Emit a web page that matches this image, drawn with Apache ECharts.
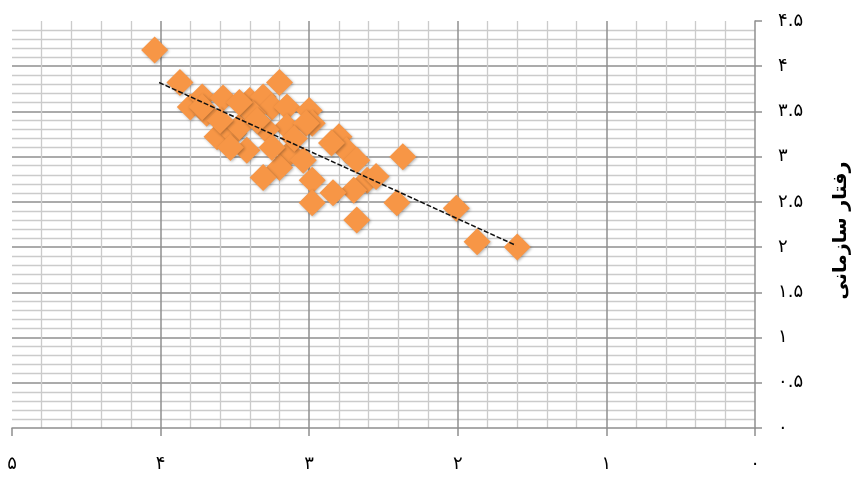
<!DOCTYPE html>
<html>
<head>
<meta charset="utf-8">
<script src="https://cdn.jsdelivr.net/npm/echarts@6/dist/echarts.min.js"></script>
<style>html,body{margin:0;padding:0;background:#fff}#c{width:859px;height:478px}</style>
</head>
<body>
<div id="c"></div>
<script>
// X values (horizontal axis, reversed) and Y values (رفتار سازمانی)
const pointsX = [4.04,3.87,3.20,3.80,3.72,3.58,3.69,3.40,3.31,3.25,3.15,3.00,2.98,3.62,3.51,3.42,3.47,3.15,3.13,3.20,3.31,3.04,2.80,2.75,2.68,2.37,2.98,2.61,2.70,2.84,2.98,2.41,2.68,2.01,1.87,1.60,3.38,3.29,3.53,3.25,3.02,3.47,3.10,3.35,3.60,2.85,2.55,3.72];
const pointsY = [4.18,3.82,3.82,3.55,3.66,3.65,3.48,3.62,3.66,3.55,3.55,3.51,3.37,3.22,3.26,3.07,3.33,3.33,3.04,2.88,2.77,2.96,3.22,3.07,2.96,3.00,2.74,2.74,2.63,2.60,2.49,2.49,2.30,2.43,2.06,2.00,3.48,3.30,3.10,3.10,3.37,3.60,3.20,3.40,3.40,3.15,2.78,3.55];
// Linear trend line end points
const trendX = [4.01, 1.61];
const trendY = [3.82, 2.02];
const xTicks = [0,1,2,3,4,5];
const yTicks = [0,0.5,1,1.5,2,2.5,3,3.5,4,4.5];
const yAxisName = 'رفتار سازمانی';

const fa = s => String(s).replace(/[0-9]/g, d => '۰۱۲۳۴۵۶۷۸۹'[d]);
const FONT = '"DejaVu Sans", sans-serif';

const chart = echarts.init(document.getElementById('c'));
chart.setOption({
  animation: false,
  grid: { left: 12, right: 104, top: 21, bottom: 50, containLabel: false, outerBoundsMode: 'none' },
  xAxis: {
    type: 'value', inverse: true, min: xTicks[0], max: xTicks[xTicks.length-1], interval: 1,
    axisLine: { show: true, lineStyle: { color: '#8f8f8f', width: 1.5 } },
    axisTick: { show: true, length: 8, lineStyle: { color: '#8f8f8f', width: 1.5 } },
    axisLabel: { margin: 27, color: '#000', fontSize: 18, fontFamily: FONT, formatter: v => fa(v) },
    splitLine: { show: true, showMinLine: false, showMaxLine: false, lineStyle: { color: '#8f8f8f', width: 1.5 } },
    minorTick: { show: false, splitNumber: 5 },
    minorSplitLine: { show: true, lineStyle: { color: '#cbcbcb', width: 1.3 } }
  },
  yAxis: {
    type: 'value', position: 'right', min: yTicks[0], max: yTicks[yTicks.length-1], interval: 0.5,
    name: yAxisName, nameLocation: 'middle', nameRotate: 90, nameGap: 77,
    nameTextStyle: { color: '#000', fontSize: 19, fontWeight: 'bold', fontFamily: FONT, padding: [0, 12, 0, 0] },
    axisLine: { show: true, lineStyle: { color: '#8f8f8f', width: 1.5 } },
    axisTick: { show: true, length: 7, lineStyle: { color: '#8f8f8f', width: 1.5 } },
    axisLabel: { margin: 23, color: '#000', fontSize: 18, fontFamily: FONT, align: 'left', formatter: v => fa(v) },
    splitLine: { show: true, showMinLine: false, showMaxLine: false, lineStyle: { color: '#8f8f8f', width: 1.5 } },
    minorTick: { show: false, splitNumber: 5 },
    minorSplitLine: { show: true, lineStyle: { color: '#cbcbcb', width: 1.3 } }
  },
  series: [
    {
      type: 'scatter', symbol: 'diamond', symbolSize: 27,
      data: pointsX.map((x, i) => [x, pointsY[i]]),
      itemStyle: { color: '#F79646', opacity: 1, shadowBlur: 3, shadowColor: 'rgba(0,0,0,0.3)', shadowOffsetX: 1, shadowOffsetY: 1 },
      z: 2
    },
    {
      type: 'line', symbol: 'none', data: trendX.map((x, i) => [x, trendY[i]]),
      lineStyle: { color: '#111', width: 1.5, type: [5, 2] }, z: 3
    }
  ]
});
</script>
</body>
</html>
